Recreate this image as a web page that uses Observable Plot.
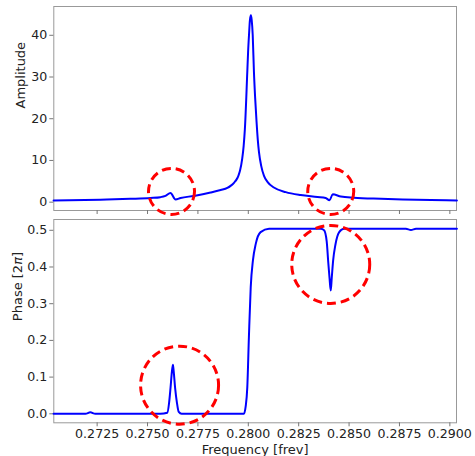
<!DOCTYPE html>
<html><head><meta charset="utf-8">
<script src="https://cdn.jsdelivr.net/npm/d3@7"></script>
<script src="https://cdn.jsdelivr.net/npm/@observablehq/plot@0.6"></script>
<style>body{margin:0;background:#fff}</style>
</head><body><div id="chart"></div>
<script>
// Amplitude spectrum
const ampFreq = [0.27034,0.27266,0.27415,0.27515,0.27564,0.27589,0.27614,0.27639,0.27664,0.27730,0.27813,0.27863,0.27896,0.27912,0.27930,0.27946,0.27952,0.27959,0.27970,0.27977,0.27983,0.27995,0.27999,0.28004,0.28008,0.28013,0.28017,0.28022,0.28028,0.28034,0.28041,0.28047,0.28053,0.28064,0.28078,0.28096,0.28127,0.28186,0.28260,0.28343,0.28384,0.28403,0.28419,0.28459,0.28524,0.28658,0.28766,0.28906,0.29035];
const amplitude = [0.40,0.60,0.80,1.00,1.20,1.50,2.20,0.65,1.00,1.50,2.30,2.90,3.40,3.90,4.70,5.80,6.50,7.60,10.5,13.5,17.5,31.2,36.0,40.5,43.6,44.8,43.6,40.0,31.2,25.0,19.2,15.0,12.0,8.7,6.3,4.8,3.5,2.4,1.7,1.25,1.0,0.45,1.9,1.35,1.05,0.8,0.65,0.5,0.4];
// Phase (units of 2π)
const phaseFreq = [0.27034,0.27192,0.27216,0.27241,0.27564,0.27598,0.27607,0.27614,0.27621,0.27626,0.27630,0.27637,0.27646,0.27655,0.27669,0.27978,0.27987,0.27995,0.28003,0.28012,0.28023,0.28037,0.28061,0.28103,0.28360,0.28376,0.28389,0.28396,0.28403,0.28409,0.28414,0.28421,0.28432,0.28451,0.28475,0.28782,0.28807,0.28832,0.29035];
const phase = [0.0,0.0,0.004,0.0,0.0,0.003,0.03,0.07,0.115,0.134,0.115,0.07,0.03,0.005,0.0,0.0,0.02,0.072,0.209,0.345,0.418,0.463,0.495,0.504,0.504,0.500,0.47,0.418,0.37,0.336,0.37,0.418,0.46,0.495,0.504,0.504,0.501,0.504,0.504];
// Tick values
const xTicks = [0.2725,0.2750,0.2775,0.2800,0.2825,0.2850,0.2875,0.2900];
const ampTicks = [0,10,20,30,40];
const phaseTicks = [0.0,0.1,0.2,0.3,0.4,0.5];
// Highlight circle centres
const ampCircleFreq = [0.27619,0.28409];
const ampCircleVal = [2.57,2.57];
const phaseCircleFreq = [0.27659,0.28409];
const phaseCircleVal = [0.078,0.407];

const ampData = ampFreq.map((f,i)=>({f, v: amplitude[i]}));
const phaseData = phaseFreq.map((f,i)=>({f, v: phase[i]}));
const ampCircles = ampCircleFreq.map((f,i)=>({f, v: ampCircleVal[i]}));
const phaseCircles = phaseCircleFreq.map((f,i)=>({f, v: phaseCircleVal[i]}));

const xDomain = [0.27035, 0.29033];
const style = {fontFamily: "DejaVu Sans", fontSize: "12.6px", color: "#222", background: "#fff", overflow: "visible"};
const spine = "#999";

const ampPlot = Plot.plot({
  width: 475, height: 215,
  marginLeft: 53.3, marginRight: 19, marginTop: 6, marginBottom: 5,
  style,
  x: {domain: xDomain, label: null},
  y: {domain: [-2.0, 46.9], label: null},
  marks: [
    Plot.frame({stroke: spine}),
    Plot.axisX(xTicks, {tickSize: 4, tickFormat: () => "", stroke: "#777", label: null}),
    Plot.axisY(ampTicks, {tickSize: 4, tickPadding: 2.5, tickFormat: d => String(d), stroke: "#777", label: null}),
    Plot.line(ampData, {x: "f", y: "v", stroke: "#0000ff", strokeWidth: 2, curve: "monotone-x"}),
    Plot.dot(ampCircles, {x: "f", y: "v", r: 23, stroke: "#ff0000", strokeWidth: 3, strokeDasharray: "9,5", fill: "none"}),
    Plot.text(["Amplitude"], {text: d => d, frameAnchor: "left", lineAnchor: "middle", rotate: -90, dx: -32.6, fontSize: 13, fill: "#222"})
  ]
});

const phasePlot = Plot.plot({
  width: 475, height: 241,
  marginLeft: 53.3, marginRight: 19, marginTop: 4, marginBottom: 33.7,
  style,
  x: {domain: xDomain, label: null},
  y: {domain: [-0.0245, 0.5294], label: null},
  marks: [
    Plot.frame({stroke: spine}),
    Plot.axisX(xTicks, {tickSize: 4, tickPadding: 2, tickFormat: d => d.toFixed(4), stroke: "#777", label: null}),
    Plot.axisY(phaseTicks, {tickSize: 4, tickPadding: 2.5, tickFormat: d => d.toFixed(1), stroke: "#777", label: null}),
    Plot.line(phaseData, {x: "f", y: "v", stroke: "#0000ff", strokeWidth: 2, curve: "monotone-x"}),
    Plot.dot(phaseCircles, {x: "f", y: "v", r: 39, stroke: "#ff0000", strokeWidth: 3, strokeDasharray: "9,5", fill: "none"}),
    Plot.text(["Phase [2π]"], {text: d => d, frameAnchor: "left", lineAnchor: "middle", rotate: -90, dx: -36.3, fontSize: 13, fill: "#222"}),
    Plot.text(["Frequency [frev]"], {text: d => d, frameAnchor: "bottom", lineAnchor: "middle", dy: 27, fontSize: 13, fill: "#222"})
  ]
});

// italic π as in mathtext
phasePlot.querySelectorAll("text").forEach(t => {
  if (t.textContent === "Phase [2π]") {
    t.textContent = "";
    const ns = "http://www.w3.org/2000/svg";
    const a = document.createElementNS(ns, "tspan"); a.textContent = "Phase [2";
    const b = document.createElementNS(ns, "tspan"); b.textContent = "π"; b.setAttribute("font-style", "italic");
    const c = document.createElementNS(ns, "tspan"); c.textContent = "]";
    t.append(a, b, c);
  }
});

const root = document.getElementById("chart");
root.append(ampPlot, phasePlot);
</script>
</body></html>
